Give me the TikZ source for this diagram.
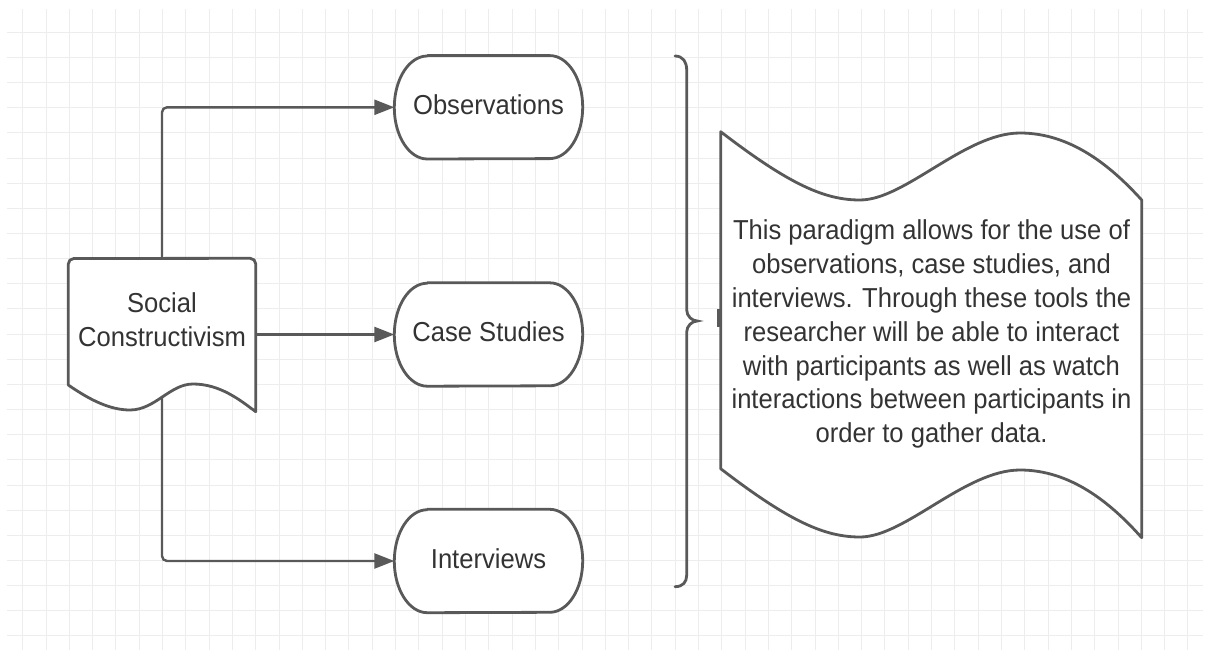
\documentclass[tikz,border=0pt]{standalone}
\usepackage{fontspec}
\usepackage{graphicx}
\setmainfont{Liberation Sans}
\usetikzlibrary{arrows.meta}
\definecolor{edge}{HTML}{595959}
\definecolor{ink}{HTML}{333333}
\definecolor{gridc}{HTML}{EDEDED}
\newcommand\tallt[1]{\scalebox{1}[1.07]{\begin{tabular}{@{}c@{}}#1\end{tabular}}}
\begin{document}
\begin{tikzpicture}[x=1pt,y=-1pt,
  gridline/.style={draw=gridc,line width=1pt},
  outline/.style={draw=edge,line width=2.8pt,fill=white,line join=round},
  conn/.style={draw=edge,line width=2.4pt,rounded corners=5pt,-{Triangle[length=20pt,width=15pt]}},
  txt/.style={text=ink,font=\fontsize{25.6}{31.6}\selectfont,align=center,inner sep=0pt},
  holder/.style={inner sep=0pt,minimum width=188pt,minimum height=103pt}]
\useasboundingbox[fill=white] (0,0) rectangle (1205,653);
% grid
\foreach \i in {0,...,50} \draw[gridline] ({22.7+23.305*\i},9) -- ({22.7+23.305*\i},650);
\foreach \j in {0,...,24} \draw[gridline] (7,{32.3+25.15*\j}) -- (1203,{32.3+25.15*\j});
% node holders
\node[inner sep=0pt,minimum width=187.4pt,minimum height=153.4pt] (sc) at (162,335) {};
\node[holder] (obs) at (488.5,107.3) {};
\node[holder] (cs) at (488.5,334.5) {};
\node[holder] (int) at (488.5,561) {};
% connectors
\draw[conn] (sc.center) |- (obs.west);
\draw[conn] (sc.center |- cs.west) -- (cs.west);
\draw[conn] (sc.center) |- (int.west);
% document shape
\draw[outline] (68.3,385) -- (68.3,264) arc[start angle=180,end angle=90,radius=5.5pt] -- (250.2,258.3)
  arc[start angle=90,end angle=0,radius=5.5pt] -- (255.7,411.7)
  .. controls (240,400) and (220,384) .. (193,384)
  .. controls (170,384) and (155,410) .. (130,410)
  .. controls (110,410) and (90,400) .. (68.3,385) -- cycle;
\node[txt] (sclabel) at (162,322.8) {\tallt{Social\\Constructivism}};
% terminators
\foreach \n/\t in {obs/Observations,cs/Case Studies,int/Interviews}{
  \draw[outline] ([xshift=33pt]\n.north west) -- ([xshift=-33pt]\n.north east)
    arc[start angle=90,end angle=-90,x radius=33pt,y radius=51.5pt]
    -- ([xshift=33pt]\n.south west)
    arc[start angle=270,end angle=90,x radius=33pt,y radius=51.5pt] -- cycle;
  \node[txt] at ([yshift=-0.5pt]\n.center) {\tallt{\t}};
}
% brace
\draw[draw=edge,line width=2.8pt,line cap=round] (675,56) .. controls (683,56) and (686.7,62) .. (686.7,70)
  -- (686.7,310) .. controls (686.7,316) and (692,321) .. (697.3,321)
  .. controls (692,321) and (686.7,326) .. (686.7,332)
  -- (686.7,575) .. controls (686.7,582) and (683,586.7) .. (675,586.7);
% tape shape
\draw[outline] (720.7,131.7)
  .. controls (790,185) and (825,200) .. (860,200)
  .. controls (905,200) and (965,133) .. (1020,133)
  .. controls (1070,133) and (1110,165) .. (1141.7,200)
  -- (1141.7,537.7)
  .. controls (1110,502) and (1070,470) .. (1020,470)
  .. controls (965,470) and (905,537) .. (860,537)
  .. controls (825,537) and (790,522) .. (720.7,468.7) -- cycle;
\draw[draw=edge,line width=3.5pt] (719,308.5) -- (719,327);
\node[txt] (tape) at (931.5,334.5) {\tallt{This paradigm allows for the use of\\observations, case studies, and\\interviews. Through these tools the\\researcher will be able to interact\\with participants as well as watch\\interactions between participants in\\order to gather data.}};
\end{tikzpicture}
\end{document}
